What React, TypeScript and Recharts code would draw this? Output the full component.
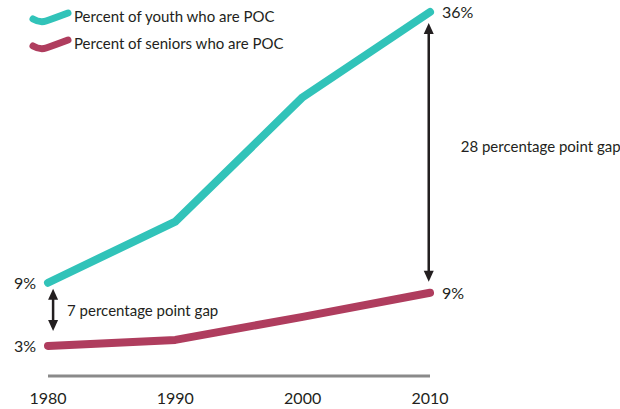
import React from "react";
import {
  LineChart,
  Line,
  XAxis,
  YAxis,
  Legend,
  LabelList,
  ReferenceLine,
} from "recharts";

const YEARS = [1980, 1990, 2000, 2010];
const YOUTH_POC = [9.0, 15.1, 27.5, 36.0];
const SENIOR_POC = [2.7, 3.3, 5.6, 8.0];
const YOUTH_LABELS = ["9%", "", "", "36%"];
const SENIOR_LABELS = ["3%", "", "", "9%"];

const SERIES = [
  { key: "youth", name: "Percent of youth who are POC", color: "#31C3B9" },
  { key: "seniors", name: "Percent of seniors who are POC", color: "#AF3D5E" },
];

const GAP_START = { year: 1980.4, from: 8.4, to: 4.2, text: "7 percentage point gap" };
const GAP_END = { year: 2009.9, from: 34.9, to: 9.1, text: "28 percentage point gap" };

const TEXT = "#231F20";
const FONT = "Lato, 'Noto Sans', sans-serif";

const data = YEARS.map((year, i) => ({
  year,
  youth: YOUTH_POC[i],
  seniors: SENIOR_POC[i],
  youthLabel: YOUTH_LABELS[i],
  seniorLabel: SENIOR_LABELS[i],
}));

// value labels at both ends of each line
function EndLabel(props: any) {
  const { x, y, value, index } = props;
  if (!value) return null;
  const first = index === 0;
  return (
    <text
      x={first ? x - 12 : x + 12}
      y={y + 2}
      textAnchor={first ? "end" : "start"}
      dominantBaseline="middle"
      fontSize={16}
      fontFamily={FONT}
      fill={TEXT}
    >
      {value}
    </text>
  );
}

// double headed arrow with a label beside it
function gapArrow(text: string, dx: number, ty: number) {
  return (props: any) => {
    const { x1, y1, x2, y2 } = props;
    const top = Math.min(y1, y2);
    const bot = Math.max(y1, y2);
    const h = 11;
    const w = 5;
    return (
      <g>
        <line x1={x1} y1={top + h - 2} x2={x2} y2={bot - h + 2} stroke={TEXT} strokeWidth={2.5} />
        <path d={`M${x1},${top} L${x1 - w},${top + h} L${x1 + w},${top + h} Z`} fill={TEXT} />
        <path d={`M${x1},${bot} L${x1 - w},${bot - h} L${x1 + w},${bot - h} Z`} fill={TEXT} />
        <text
          x={x1 + dx}
          y={ty}
          dominantBaseline="middle"
          fontSize={15}
          fontFamily={FONT}
          fill={TEXT}
        >
          {text}
        </text>
      </g>
    );
  };
}

function LegendContent() {
  return (
    <svg width={280} height={60}>
      {SERIES.map((s, i) => {
        const y = 12 + i * 27;
        return (
          <g key={s.key}>
            <path
              d={`M5,${y + 3} Q12,${y + 7} 18,${y + 5} T40,${y - 3}`}
              fill="none"
              stroke={s.color}
              strokeWidth={7}
              strokeLinecap="round"
            />
            <text
              x={46}
              y={y + 2}
              dominantBaseline="middle"
              fontSize={15}
              fontFamily={FONT}
              fill={TEXT}
            >
              {s.name}
            </text>
          </g>
        );
      })}
    </svg>
  );
}

export default function App() {
  return (
    <div
      style={{
        position: "absolute",
        left: 0,
        top: 0,
        width: 620,
        height: 409,
        background: "#fff",
      }}
    >
      <LineChart
        width={620}
        height={409}
        data={data}
        margin={{ top: 12, right: 190, bottom: 0, left: 48 }}
      >
        <XAxis
          dataKey="year"
          type="number"
          domain={[1980, 2010]}
          ticks={YEARS}
          height={33}
          tickLine={false}
          tickSize={0}
          tickMargin={17}
          axisLine={{ stroke: "#8A8A8A", strokeWidth: 3 }}
          tick={{ fill: TEXT, fontSize: 16, fontFamily: FONT }}
        />
        <YAxis hide domain={[-0.3, 36]} />
        <Legend
          layout="horizontal"
          verticalAlign="middle"
          align="center"
          wrapperStyle={{ top: 4, left: 28, width: 280, height: 60 }}
          content={<LegendContent />}
        />
        <Line
          dataKey="youth"
          name={SERIES[0].name}
          stroke={SERIES[0].color}
          strokeWidth={8}
          strokeLinecap="round"
          strokeLinejoin="round"
          dot={false}
          isAnimationActive={false}
        >
          <LabelList dataKey="youthLabel" content={<EndLabel />} />
        </Line>
        <Line
          dataKey="seniors"
          name={SERIES[1].name}
          stroke={SERIES[1].color}
          strokeWidth={8}
          strokeLinecap="round"
          strokeLinejoin="round"
          dot={false}
          isAnimationActive={false}
        >
          <LabelList dataKey="seniorLabel" content={<EndLabel />} />
        </Line>
        <ReferenceLine
          segment={[
            { x: GAP_START.year, y: GAP_START.from },
            { x: GAP_START.year, y: GAP_START.to },
          ]}
          shape={gapArrow(GAP_START.text, 14, 312)}
        />
        <ReferenceLine
          segment={[
            { x: GAP_END.year, y: GAP_END.from },
            { x: GAP_END.year, y: GAP_END.to },
          ]}
          shape={gapArrow(GAP_END.text, 32, 148)}
        />
      </LineChart>
    </div>
  );
}
